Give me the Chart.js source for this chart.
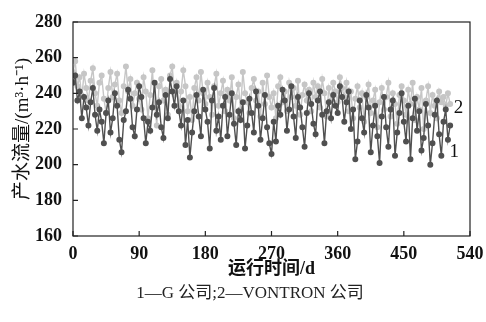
<!DOCTYPE html>
<html>
<head>
<meta charset="utf-8">
<script src="https://cdn.jsdelivr.net/npm/chart.js@4"></script>
<style>
  html, body { margin: 0; padding: 0; background: #fff; }
  #wrap { width: 486px; height: 322px; }
</style>
</head>
<body>
<div id="wrap"><canvas id="flowChart" width="486" height="322"></canvas></div>
<script>
const days = [];
for (let d = 0; d <= 513; d += 3) days.push(d);

const gFlow = [
  246, 250, 236, 241, 226, 238, 232, 222, 235, 243,
  228, 219, 231, 224, 212, 229, 236, 218, 226, 240,
  233, 214, 207, 225, 230, 242, 237, 221, 216, 231,
  244, 238, 226, 212, 224, 219, 232, 246, 228, 235,
  221, 215, 239, 226, 248, 241, 233, 244, 230, 222,
  236, 211, 225, 204, 218, 230, 239, 227, 216, 242,
  231, 224, 209, 236, 243, 219, 227, 214, 233, 238,
  216, 228, 240, 223, 211, 230, 225, 235, 209, 222,
  237, 229, 218, 241, 233, 214, 226, 239, 221, 212,
  206, 224, 213, 233, 228, 242, 236, 219, 231, 244,
  227, 215, 238, 232, 221, 210, 229, 240, 234, 223,
  217, 236, 241, 228, 212, 230, 235, 226, 239, 233,
  229, 244, 238, 224, 235, 241, 220, 231, 203, 213,
  236, 226, 218, 239, 232, 207, 222, 233, 216, 201,
  227, 238, 221, 210, 231, 236, 205, 218, 229, 240,
  224, 213, 233, 203, 226, 237, 219, 230, 208, 215,
  234, 222, 200, 212, 228, 236, 217, 205, 224, 231,
  214, 222
];

const vontronFlow = [
  252, 258, 244, 249, 238, 251, 243, 236, 247, 254,
  240, 233, 246, 250, 237, 229, 243, 252, 238, 245,
  251, 236, 229, 244, 255, 241, 248, 233, 240, 246,
  237, 231, 249, 241, 226, 239, 253, 234, 222, 244,
  248, 236, 242, 228, 250, 255, 239, 246, 233, 241,
  253, 244, 230, 238, 225, 243, 249, 236, 252, 240,
  234, 246, 238, 228, 244, 251, 233, 240, 247, 230,
  242, 236, 249, 226, 238, 245, 231, 252, 240, 235,
  229, 243, 248, 236, 241, 227, 246, 234, 250, 238,
  232, 240, 226, 244, 249, 235, 241, 230, 246, 238,
  243, 233, 247, 228, 239, 245, 236, 242, 230, 246,
  238, 244, 232, 248, 240, 227, 243, 236, 246, 241,
  235, 249, 243, 238, 246, 230, 241, 226, 237, 244,
  232, 240, 224, 238, 245, 229, 236, 242, 221, 235,
  243, 231, 238, 246, 227, 240, 234, 223, 239, 244,
  236, 228, 242, 234, 246, 225, 238, 231, 243, 220,
  236, 244, 229, 239, 233, 226, 241, 235, 238, 233,
  240, 234
];

const xTicks = [0, 90, 180, 270, 360, 450, 540];
const yTicks = [160, 180, 200, 220, 240, 260, 280];
const seriesLabels = ['1', '2'];
const caption = '1—G 公司;2—VONTRON 公司';

const FONT = '"Liberation Serif", "Noto Sans CJK SC", serif';

function toPoints(vals) {
  return vals.map((v, i) => ({ x: days[i], y: v }));
}

// frame, inward tick marks, curve labels and caption
const decor = {
  id: 'decor',
  afterDraw(chart) {
    const { ctx, chartArea: a, scales } = chart;
    ctx.save();
    ctx.strokeStyle = '#222';
    ctx.lineWidth = 1.2;
    ctx.strokeRect(a.left, a.top, a.right - a.left, a.bottom - a.top);
    ctx.beginPath();
    xTicks.forEach(t => {
      const px = scales.x.getPixelForValue(t);
      ctx.moveTo(px, a.bottom); ctx.lineTo(px, a.bottom - 5);
    });
    yTicks.forEach(t => {
      const py = scales.y.getPixelForValue(t);
      ctx.moveTo(a.left, py); ctx.lineTo(a.left + 5, py);
    });
    ctx.stroke();

    ctx.fillStyle = '#111';
    ctx.font = '19px ' + FONT;
    ctx.textAlign = 'left';
    ctx.textBaseline = 'middle';
    ctx.fillText(seriesLabels[1], scales.x.getPixelForValue(518), scales.y.getPixelForValue(232));
    ctx.fillText(seriesLabels[0], scales.x.getPixelForValue(512), scales.y.getPixelForValue(207));

    ctx.font = '17px ' + FONT;
    ctx.textAlign = 'center';
    ctx.fillStyle = '#222';
    ctx.fillText(caption, 250, 294);
    ctx.restore();
  }
};

new Chart(document.getElementById('flowChart'), {
  type: 'line',
  data: {
    datasets: [
      {
        label: 'G公司',
        data: toPoints(gFlow),
        borderColor: '#505050',
        backgroundColor: '#505050',
        borderWidth: 1.4,
        pointRadius: 2.3,
        pointHoverRadius: 2.3,
        tension: 0
      },
      {
        label: 'VONTRON公司',
        data: toPoints(vontronFlow),
        borderColor: '#c6c6c6',
        backgroundColor: '#c6c6c6',
        borderWidth: 1.4,
        pointRadius: 2.3,
        pointHoverRadius: 2.3,
        tension: 0
      }
    ]
  },
  options: {
    responsive: false,
    animation: false,
    layout: { padding: { top: 22, right: 16, left: 12, bottom: 42 } },
    plugins: {
      legend: { display: false },
      tooltip: { enabled: false }
    },
    scales: {
      x: {
        type: 'linear',
        min: 0, max: 540,
        afterBuildTicks: s => { s.ticks = xTicks.map(v => ({ value: v })); },
        afterFit: s => { s.height = 44; },
        grid: { display: false },
        border: { display: false },
        ticks: { color: '#111', font: { family: FONT, size: 18, weight: 'bold' }, padding: 0, maxRotation: 0 },
        title: { display: true, text: '运行时间/d', color: '#111', font: { family: FONT, size: 18, weight: 'bold' }, padding: { top: 0, bottom: 0 } }
      },
      y: {
        min: 160, max: 280,
        afterBuildTicks: s => { s.ticks = yTicks.map(v => ({ value: v })); },
        afterFit: s => { s.width = 61; },
        grid: { display: false },
        border: { display: false },
        ticks: { color: '#111', font: { family: FONT, size: 18, weight: 'bold' }, padding: 3 },
        title: { display: true, text: '产水流量/(m³·h⁻¹)', color: '#111', font: { family: FONT, size: 19 }, padding: { top: 0, bottom: 0 } }
      }
    }
  },
  plugins: [decor]
});
</script>
</body>
</html>
